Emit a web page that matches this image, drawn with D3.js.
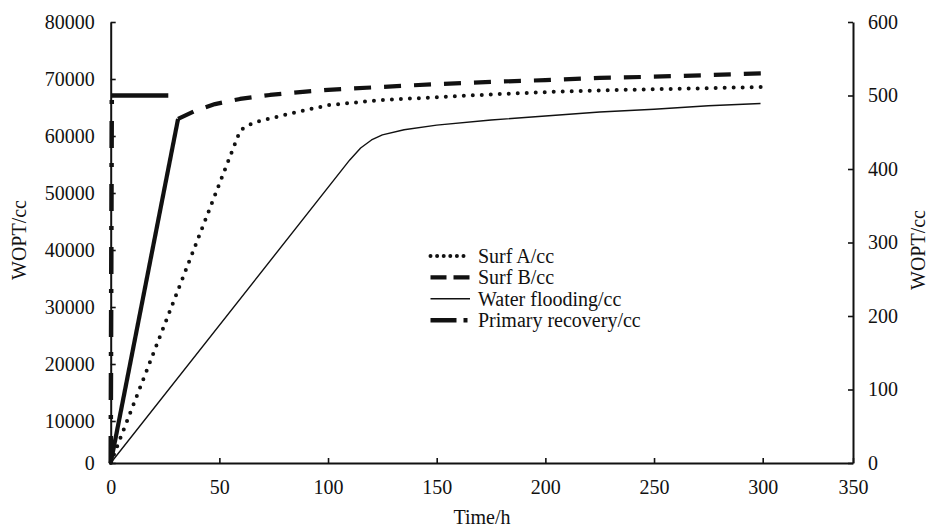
<!DOCTYPE html>
<html><head><meta charset="utf-8">
<script src="https://cdn.jsdelivr.net/npm/d3@7"></script>
<style>
html,body{margin:0;padding:0;background:#fff;}
svg{display:block;font-family:"Liberation Serif","Times New Roman",serif;}
</style></head><body>
<svg id="chart" width="928" height="527"></svg>
<script>
// Tick labels
const xTicks = [0, 50, 100, 150, 200, 250, 300, 350];
const leftTicks = [0, 10000, 20000, 30000, 40000, 50000, 60000, 70000, 80000];
const rightTicks = [0, 100, 200, 300, 400, 500, 600];

// Cumulative oil production (cc) against time (h)
const surfATime  = [0, 59.6, 65.5, 74.7, 85.7, 100, 124, 150, 175, 200, 225, 250, 276, 300];
const surfAValue = [0, 61000, 62300, 63200, 64200, 65400, 66300, 66800, 67300, 67700, 68000, 68200, 68400, 68600];

const surfBTime  = [0, 31, 38.8, 48, 59.5, 73.3, 87.1, 100, 124, 150, 175, 200, 225, 250, 276, 300];
const surfBValue = [0, 63000, 64400, 65600, 66500, 67200, 67700, 68100, 68600, 69100, 69500, 69800, 70200, 70400, 70700, 71000];

const waterTime  = [0, 110, 115, 120, 125, 135, 150, 175, 200, 225, 250, 275, 299];
const waterValue = [0, 55800, 57900, 59300, 60200, 61100, 61900, 62800, 63500, 64200, 64700, 65300, 65700];

// Primary recovery is read on the right-hand axis
const primaryTime  = [0, 0.5, 26.5];
const primaryValue = [0, 500, 500];

const seriesNames = ["Surf A/cc", "Surf B/cc", "Water flooding/cc", "Primary recovery/cc"];

const svg = d3.select("#chart");
const ink = "#111";

const x = d3.scaleLinear().domain([0, 300, 350]).range([110.7, 762.7, 853]);
const yL = d3.scaleLinear().domain([0, 10000, 80000]).range([463, 421, 22]);
const yR = d3.scaleLinear().domain([0, 600]).range([463, 22]);

const series = [
  {name: seriesNames[0], t: surfATime, v: surfAValue, y: yL, width: 4,
   parts: [{from: 0, to: surfATime.length - 1, dash: "0,9", cap: "round"}],
   legend: {dash: "0,6.6", cap: "round"}},
  {name: seriesNames[1], t: surfBTime, v: surfBValue, y: yL, width: 4.2,
   parts: [{from: 0, to: 1, dash: null, cap: "butt"},
           {from: 1, to: surfBTime.length - 1, dash: "17,13", cap: "butt"}],
   legend: {dash: "16,7", cap: "butt"}},
  {name: seriesNames[2], t: waterTime, v: waterValue, y: yL, width: 1.4,
   parts: [{from: 0, to: waterTime.length - 1, dash: null, cap: "butt"}],
   legend: {dash: null, cap: "butt"}},
  {name: seriesNames[3], t: primaryTime, v: primaryValue, y: yR, width: 4.5,
   parts: [{from: 0, to: 1, dash: "27,17,4,15", cap: "butt"},
           {from: 1, to: primaryTime.length - 1, dash: null, cap: "butt"}],
   legend: {dash: "26,7,4,20", cap: "butt"}}
];

// Axes
const fontSize = 20;
function styleAxis(g) {
  g.selectAll("path.domain").attr("stroke", ink).attr("stroke-width", 2);
  g.selectAll(".tick line").attr("stroke", ink).attr("stroke-width", 1.6);
  g.selectAll(".tick text").attr("fill", ink).attr("font-size", fontSize)
    .attr("font-family", "Liberation Serif, serif");
}

svg.append("g").attr("transform", "translate(0,463)")
  .call(d3.axisBottom(x).tickValues(xTicks).tickSize(-5).tickSizeOuter(0).tickPadding(17).tickFormat(d3.format("d")))
  .call(styleAxis);

svg.append("g").attr("transform", "translate(110.7,0)")
  .call(d3.axisLeft(yL).tickValues(leftTicks).tickSize(-5).tickSizeOuter(0).tickPadding(16).tickFormat(d3.format("d")))
  .call(styleAxis);

svg.append("g").attr("transform", "translate(853,0)")
  .call(d3.axisRight(yR).tickValues(rightTicks).tickSize(-5).tickSizeOuter(0).tickPadding(15).tickFormat(d3.format("d")))
  .call(styleAxis);

// Axis titles
svg.append("text").attr("x", 482).attr("y", 524).attr("text-anchor", "middle")
  .attr("font-size", fontSize).attr("fill", ink).text("Time/h");
svg.append("text").attr("transform", "translate(26,240) rotate(-90)").attr("text-anchor", "middle")
  .attr("font-size", fontSize).attr("fill", ink).text("WOPT/cc");
svg.append("text").attr("transform", "translate(925,250) rotate(-90)").attr("text-anchor", "middle")
  .attr("font-size", fontSize).attr("fill", ink).text("WOPT/cc");

// Series lines
series.forEach(s => {
  const pts = s.t.map((t, i) => [t, s.v[i]]);
  const line = d3.line().x(d => x(d[0])).y(d => s.y(d[1]));
  s.parts.forEach(p => {
    svg.append("path")
      .attr("d", line(pts.slice(p.from, p.to + 1)))
      .attr("fill", "none").attr("stroke", ink)
      .attr("stroke-width", s.width)
      .attr("stroke-linecap", p.cap)
      .attr("stroke-linejoin", "round")
      .attr("stroke-dasharray", p.dash);
  });
});

// Legend
const legend = svg.append("g");
series.forEach((s, i) => {
  const base = 263 + 21.4 * i;
  legend.append("line")
    .attr("x1", 430.5).attr("x2", 470).attr("y1", base - 7).attr("y2", base - 7)
    .attr("stroke", ink).attr("stroke-width", s.width)
    .attr("stroke-linecap", s.legend.cap)
    .attr("stroke-dasharray", s.legend.dash);
  legend.append("text").attr("x", 478).attr("y", base)
    .attr("font-size", fontSize).attr("fill", ink).text(s.name);
});
</script>
</body></html>
